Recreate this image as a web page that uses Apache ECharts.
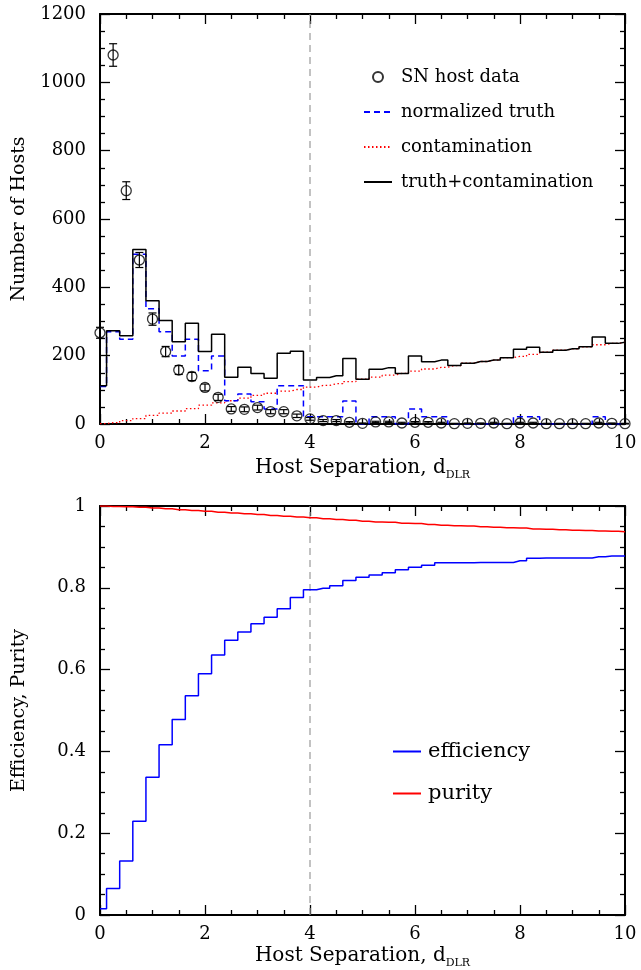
<!DOCTYPE html>
<html>
<head>
<meta charset="utf-8">
<script src="https://cdn.jsdelivr.net/npm/echarts@6/dist/echarts.min.js"></script>
<style>
html,body{margin:0;padding:0;background:#fff;}
#chart{width:641px;height:970px;}
</style>
</head>
<body>
<div id="chart"></div>
<script>
// ---- data ----
const binCenters = [0, 0.25, 0.5, 0.75, 1, 1.25, 1.5, 1.75, 2, 2.25, 2.5, 2.75, 3, 3.25, 3.5, 3.75, 4, 4.25, 4.5, 4.75, 5, 5.25, 5.5, 5.75, 6, 6.25, 6.5, 6.75, 7, 7.25, 7.5, 7.75, 8, 8.25, 8.5, 8.75, 9, 9.25, 9.5, 9.75, 10];
const snHostData = [267, 1080, 683, 480, 307, 212, 158, 139, 107, 78, 44, 43, 48, 36, 36, 24, 15, 10, 10, 5, 2, 6, 6, 3, 5, 5, 3, 1, 2, 2, 3, 1, 3, 3, 1, 1, 1, 1, 3, 2, 1];
const snHostErr = [16, 33, 26, 22, 18, 15, 13, 12, 10, 9, 7, 7, 7, 6, 6, 5, 4, 3, 3, 2, 1, 2, 2, 2, 2, 2, 2, 1, 1, 1, 2, 1, 2, 2, 1, 1, 1, 1, 2, 1, 1];
const normalizedTruth = [110, 270, 248, 497, 337, 270, 199, 248, 156, 199, 68, 88, 65, 44, 112, 112, 21, 21, 21, 67, 0, 21, 21, 0, 44, 21, 21, 0, 0, 0, 0, 0, 21, 21, 0, 0, 0, 0, 21, 0, 0];
const contamination = [1, 4, 10, 16, 25, 32, 38, 45, 55, 62, 68, 76, 84, 90, 96, 101, 108, 113, 118, 124, 131, 137, 143, 148, 155, 161, 166, 171, 178, 183, 187, 194, 198, 204, 210, 216, 220, 226, 232, 236, 239];
const truthPlusContam = [112, 273, 258, 511, 361, 303, 241, 295, 212, 263, 137, 166, 148, 134, 207, 213, 129, 136, 141, 192, 131, 160, 165, 148, 199, 182, 187, 171, 178, 183, 187, 194, 219, 225, 210, 216, 220, 226, 255, 236, 239];
const efficiency = [0.015, 0.065, 0.132, 0.229, 0.337, 0.416, 0.478, 0.536, 0.590, 0.636, 0.672, 0.692, 0.712, 0.728, 0.749, 0.776, 0.795, 0.799, 0.805, 0.818, 0.826, 0.831, 0.837, 0.844, 0.850, 0.855, 0.861, 0.861, 0.861, 0.862, 0.862, 0.862, 0.866, 0.872, 0.873, 0.873, 0.873, 0.873, 0.876, 0.878, 0.878];
const purity = [1.000, 0.999, 0.998, 0.997, 0.995, 0.993, 0.991, 0.989, 0.987, 0.985, 0.983, 0.981, 0.979, 0.977, 0.975, 0.973, 0.971, 0.969, 0.967, 0.965, 0.963, 0.961, 0.960, 0.958, 0.957, 0.955, 0.953, 0.952, 0.951, 0.949, 0.948, 0.947, 0.946, 0.944, 0.943, 0.942, 0.941, 0.940, 0.939, 0.938, 0.937];
const cutX = 4;
const xRange = [0, 10];
const yTopRange = [0, 1200];
const yBotRange = [0, 1];

// ---- helpers ----
const FONT = '"DejaVu Serif", "Liberation Serif", serif';
const pairs = (ys) => binCenters.map((x, i) => [x, ys[i]]);

function xAxisCfg(grid, pos, withLabels, gap) {
  return {
    type: 'value', gridIndex: grid, position: pos, min: xRange[0], max: xRange[1], interval: 2,
    axisLine: {show: true, onZero: false, lineStyle: {color: '#000', width: 2}},
    axisTick: {show: true, inside: true, length: 10, lineStyle: {color: '#000', width: 1.3}},
    minorTick: {show: true, splitNumber: 4, length: 5, lineStyle: {color: '#000', width: 1.3}},
    splitLine: {show: false}, minorSplitLine: {show: false},
    axisLabel: {show: withLabels, color: '#000', fontFamily: FONT, fontSize: 18, margin: 10},
    name: withLabels ? '{a|Host Separation, d}{s|DLR}' : '',
    nameLocation: 'middle', nameGap: gap || 27,
    nameTextStyle: {color: '#000', rich: {
      a: {fontFamily: FONT, fontSize: 20, color: '#000'},
      s: {fontFamily: FONT, fontSize: 11, color: '#000', padding: [15, 0, 0, 0]}
    }}
  };
}
function yAxisCfg(grid, pos, withLabels, range, interval, name) {
  return {
    type: 'value', gridIndex: grid, position: pos, min: range[0], max: range[1], interval: interval,
    axisLine: {show: true, onZero: false, lineStyle: {color: '#000', width: 2}},
    axisTick: {show: true, inside: true, length: 10, lineStyle: {color: '#000', width: 1.3}},
    minorTick: {show: true, splitNumber: 4, length: 5, lineStyle: {color: '#000', width: 1.3}},
    splitLine: {show: false}, minorSplitLine: {show: false},
    axisLabel: {show: withLabels, color: '#000', fontFamily: FONT, fontSize: 18, margin: 14,
      formatter: (v) => String(Math.round(v * 1000) / 1000)},
    name: withLabels ? name : '', nameLocation: 'middle', nameRotate: 90, nameGap: 71,
    nameTextStyle: {color: '#000', fontFamily: FONT, fontSize: 19}
  };
}

const errorBars = {
  type: 'custom', name: 'errbars', xAxisIndex: 0, yAxisIndex: 0, z: 5,
  data: binCenters.map((x, i) => [x, snHostData[i], snHostErr[i]]),
  encode: {x: 0, y: 1},
  renderItem: function (params, api) {
    const x = api.value(0), y = api.value(1), e = api.value(2);
    const lo = api.coord([x, y - e]);
    const hi = api.coord([x, y + e]);
    const st = {stroke: '#000', lineWidth: 1.2};
    return {type: 'group', children: [
      {type: 'line', shape: {x1: lo[0], y1: lo[1], x2: hi[0], y2: hi[1]}, style: st},
      {type: 'line', shape: {x1: lo[0] - 4, y1: lo[1], x2: lo[0] + 4, y2: lo[1]}, style: st},
      {type: 'line', shape: {x1: hi[0] - 4, y1: hi[1], x2: hi[0] + 4, y2: hi[1]}, style: st}
    ]};
  }
};

const hideSym = {opacity: 0};
const option = {
  animation: false,
  backgroundColor: '#fff',
  grid: [
    {left: 100, right: 16, top: 14, height: 410, containLabel: false},
    {left: 100, right: 16, top: 506, height: 410, containLabel: false}
  ],
  xAxis: [xAxisCfg(0, 'bottom', true, 31), xAxisCfg(0, 'top', false), xAxisCfg(1, 'bottom', true, 28), xAxisCfg(1, 'top', false)],
  yAxis: [
    yAxisCfg(0, 'left', true, yTopRange, 200, 'Number of Hosts'), yAxisCfg(0, 'right', false, yTopRange, 200, ''),
    yAxisCfg(1, 'left', true, yBotRange, 0.2, 'Efficiency, Purity'), yAxisCfg(1, 'right', false, yBotRange, 0.2, '')
  ],
  legend: [
    {
      orient: 'vertical', left: 363, top: 68, padding: 0, itemWidth: 28, itemHeight: 10, itemGap: 17,
      textStyle: {fontFamily: FONT, fontSize: 18, color: '#000', padding: [0, 0, 0, 4]},
      data: [
        {name: 'SN host data', icon: 'circle'},
        {name: 'normalized truth', itemStyle: hideSym},
        {name: 'contamination', itemStyle: hideSym},
        {name: 'truth+contamination', itemStyle: hideSym}
      ]
    },
    {
      orient: 'vertical', left: 392, top: 741, padding: 0, itemWidth: 28, itemHeight: 10, itemGap: 21,
      textStyle: {fontFamily: FONT, fontSize: 21, color: '#000', padding: [0, 0, 0, 2]},
      data: [{name: 'efficiency', itemStyle: hideSym}, {name: 'purity', itemStyle: hideSym}]
    }
  ],
  series: [
    {type: 'line', name: 'cut4top', xAxisIndex: 0, yAxisIndex: 0, symbol: 'none', silent: true,
      data: [[cutX, yTopRange[0]], [cutX, yTopRange[1]]], lineStyle: {color: '#999', width: 1.2, type: [7, 5]}},
    {type: 'line', name: 'contamination', xAxisIndex: 0, yAxisIndex: 0, step: 'middle', symbol: 'none',
      data: pairs(contamination), lineStyle: {color: '#ff0000', width: 1.3, type: [1.5, 2.5]}, itemStyle: {color: '#ff0000'}},
    {type: 'line', name: 'normalized truth', xAxisIndex: 0, yAxisIndex: 0, step: 'middle', symbol: 'none',
      data: pairs(normalizedTruth), lineStyle: {color: '#0000ff', width: 1.5, type: [6, 4]}, itemStyle: {color: '#0000ff'}},
    {type: 'line', name: 'truth+contamination', xAxisIndex: 0, yAxisIndex: 0, step: 'middle', symbol: 'none',
      data: pairs(truthPlusContam), lineStyle: {color: '#000', width: 1.5}, itemStyle: {color: '#000'}},
    errorBars,
    {type: 'scatter', name: 'SN host data', xAxisIndex: 0, yAxisIndex: 0, symbol: 'circle', symbolSize: 10, z: 6,
      data: pairs(snHostData), itemStyle: {color: 'rgba(0,0,0,0)', borderColor: '#000', borderWidth: 1.3}},
    {type: 'line', name: 'cut4bot', xAxisIndex: 2, yAxisIndex: 2, symbol: 'none', silent: true,
      data: [[cutX, yBotRange[0]], [cutX, yBotRange[1]]], lineStyle: {color: '#999', width: 1.2, type: [7, 5]}},
    {type: 'line', name: 'efficiency', xAxisIndex: 2, yAxisIndex: 2, step: 'middle', symbol: 'none',
      data: pairs(efficiency), lineStyle: {color: '#0000ff', width: 1.5}, itemStyle: {color: '#0000ff'}},
    {type: 'line', name: 'purity', xAxisIndex: 2, yAxisIndex: 2, step: 'middle', symbol: 'none',
      data: pairs(purity), lineStyle: {color: '#ff0000', width: 1.5}, itemStyle: {color: '#ff0000'}}
  ]
};
const chart = echarts.init(document.getElementById('chart'), null, {renderer: 'canvas'});
chart.setOption(option);
</script>
</body>
</html>
